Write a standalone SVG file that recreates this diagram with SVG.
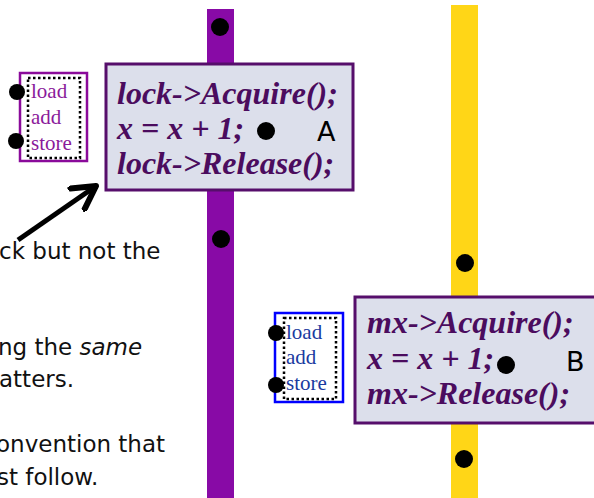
<svg xmlns="http://www.w3.org/2000/svg" width="594" height="498" viewBox="0 0 594 498">
  <style>
    .note { font-family: "DejaVu Sans", "Liberation Sans", sans-serif; font-size: 23px; fill: #111; }
    .code { font-family: "Liberation Serif", "Times New Roman", serif; font-weight: bold; font-style: italic; font-size: 32px; fill: #4b0c5e; }
    .tag { font-family: "DejaVu Sans", "Liberation Sans", sans-serif; font-size: 27px; fill: #000; }
    .ops { font-family: "Liberation Serif", "Times New Roman", serif; font-size: 21px; }
    .crit { fill: #dcdfeb; stroke: #560e6b; stroke-width: 3; }
    .dotted { fill: none; stroke: #000; stroke-width: 2.5; stroke-dasharray: 2.5 2.5; }
    .pt { fill: #000; }
  </style>
  <defs>
    <marker id="open-head" viewBox="0 0 12 12" refX="10" refY="6" markerWidth="6" markerHeight="6" markerUnits="strokeWidth" orient="auto">
      <polyline points="1,1 10,6 1,11" fill="none" stroke="#000" stroke-width="2.4" stroke-linecap="round" stroke-linejoin="round"/>
    </marker>
  </defs>

  <rect width="594" height="498" fill="#fff"/>

  <!-- explanatory text, running in from the left edge -->
  <g id="notes">
    <text class="note" x="-1" y="259">ck but not the</text>
    <text class="note" x="-2" y="355">ng the <tspan font-style="italic">same</tspan></text>
    <text class="note" x="-1" y="387">atters.</text>
    <text class="note" x="-4" y="452">onvention that</text>
    <text class="note" x="-3" y="485">st follow.</text>
  </g>

  <!-- thread timelines -->
  <g id="thread-a">
    <rect x="207" y="9" width="27" height="489" fill="#880aa6"/>
    <circle class="pt" cx="220" cy="27" r="9"/>
    <circle class="pt" cx="221" cy="239" r="9"/>
  </g>
  <g id="thread-b">
    <rect x="451" y="5" width="27" height="493" fill="#ffd617"/>
    <circle class="pt" cx="465" cy="263" r="9"/>
    <circle class="pt" cx="464" cy="459" r="9"/>
  </g>

  <!-- critical section A -->
  <g id="section-a">
    <rect class="crit" x="106" y="64" width="247" height="126"/>
    <text class="code" x="117" y="104">lock-&gt;Acquire();</text>
    <text class="code" x="117" y="139">x = x + 1;</text>
    <text class="code" x="117" y="174">lock-&gt;Release();</text>
    <circle class="pt" cx="266" cy="131" r="9"/>
    <text class="tag" x="317" y="141">A</text>
  </g>

  <!-- critical section B -->
  <g id="section-b">
    <rect class="crit" x="355" y="297" width="250" height="126"/>
    <text class="code" x="367" y="333">mx-&gt;Acquire();</text>
    <text class="code" x="367" y="369">x = x + 1;</text>
    <text class="code" x="367" y="404">mx-&gt;Release();</text>
    <circle class="pt" cx="506" cy="365" r="9"/>
    <text class="tag" x="566" y="371">B</text>
  </g>

  <!-- machine ops for A -->
  <g id="ops-a">
    <rect x="20" y="73" width="67" height="88" fill="#fff" stroke="#8a0a9a" stroke-width="2.5"/>
    <rect class="dotted" x="28" y="78" width="52" height="80"/>
    <text class="ops" x="31" y="98" fill="#8b1a9b">load</text>
    <text class="ops" x="31" y="124" fill="#8b1a9b">add</text>
    <text class="ops" x="31" y="150" fill="#8b1a9b">store</text>
    <circle class="pt" cx="17" cy="92" r="8"/>
    <circle class="pt" cx="16" cy="141" r="8"/>
  </g>

  <!-- machine ops for B -->
  <g id="ops-b">
    <rect x="275" y="313" width="68" height="89" fill="#fff" stroke="#0000ff" stroke-width="2.5"/>
    <rect class="dotted" x="284" y="318" width="52" height="81"/>
    <text class="ops" x="286" y="339" fill="#1a3aa0">load</text>
    <text class="ops" x="286" y="364" fill="#1a3aa0">add</text>
    <text class="ops" x="286" y="390" fill="#1a3aa0">store</text>
    <circle class="pt" cx="276" cy="333" r="8"/>
    <circle class="pt" cx="276" cy="385" r="8"/>
  </g>

  <!-- pointer from the note to section A -->
  <g id="connectors">
    <line x1="18" y1="240" x2="96" y2="186" stroke="#000" stroke-width="5" marker-end="url(#open-head)"/>
  </g>
</svg>
